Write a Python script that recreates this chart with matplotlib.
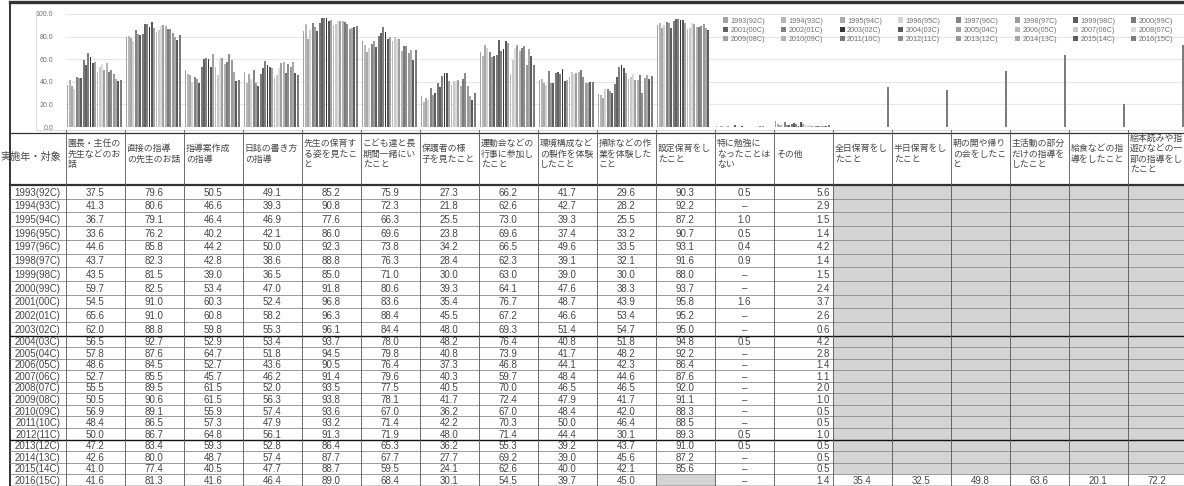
import matplotlib
matplotlib.use("Agg")
import matplotlib.pyplot as plt
import numpy as np
from matplotlib import font_manager
from matplotlib.patches import Rectangle

# ---- data -----------------------------------------------------------------
YEARS = [
    "1993(92C)", "1994(93C)", "1995(94C)", "1996(95C)", "1997(96C)", "1998(97C)",
    "1999(98C)", "2000(99C)", "2001(00C)", "2002(01C)", "2003(02C)", "2004(03C)",
    "2005(04C)", "2006(05C)", "2007(06C)", "2008(07C)", "2009(08C)", "2010(09C)",
    "2011(10C)", "2012(11C)", "2013(12C)", "2014(13C)", "2015(14C)", "2016(15C)",
]

HEADERS = [
    "園長・主任の\n先生などのお\n話",
    "直接の指導\nの先生のお話",
    "指導案作成\nの指導",
    "日誌の書き方\nの指導",
    "先生の保育す\nる姿を見たこ\nと",
    "こども達と長\n期間一緒にい\nたこと",
    "保護者の様\n子を見たこと",
    "運動会などの\n行事に参加し\nたこと",
    "環境構成など\nの製作を体験\nしたこと",
    "掃除などの作\n業を体験した\nこと",
    "設定保育をし\nたこと",
    "特に勉強に\nなったことは\nない",
    "その他",
    "全日保育をし\nたこと",
    "半日保育をし\nたこと",
    "朝の開や帰り\nの会をしたこ\nと",
    "主活動の部分\nだけの指導を\nしたこと",
    "給食などの指\n導をしたこと",
    "絵本読みや指\n遊びなどの一\n部の指導をし\nたこと",
]

NA = np.nan   # grey cell, not asked that year
DASH = None   # shown as "–"

enchou = [37.5, 41.3, 36.7, 33.6, 44.6, 43.7, 43.5, 59.7, 54.5, 65.6, 62.0, 56.5,
          57.8, 48.6, 52.7, 55.5, 50.5, 56.9, 48.4, 50.0, 47.2, 42.6, 41.0, 41.6]
chokusetsu = [79.6, 80.6, 79.1, 76.2, 85.8, 82.3, 81.5, 82.5, 91.0, 91.0, 88.8, 92.7,
              87.6, 84.5, 85.5, 89.5, 90.6, 89.1, 86.5, 86.7, 83.4, 80.0, 77.4, 81.3]
shidouan = [50.5, 46.6, 46.4, 40.2, 44.2, 42.8, 39.0, 53.4, 60.3, 60.8, 59.8, 52.9,
            64.7, 52.7, 45.7, 61.5, 61.5, 55.9, 57.3, 64.8, 59.3, 48.7, 40.5, 41.6]
nisshi = [49.1, 39.3, 46.9, 42.1, 50.0, 38.6, 36.5, 47.0, 52.4, 58.2, 55.3, 53.4,
          51.8, 43.6, 46.2, 52.0, 56.3, 57.4, 47.9, 56.1, 52.8, 57.4, 47.7, 46.4]
sugata = [85.2, 90.8, 77.6, 86.0, 92.3, 88.8, 85.0, 91.8, 96.8, 96.3, 96.1, 93.7,
          94.5, 90.5, 91.4, 93.5, 93.8, 93.6, 93.2, 91.3, 86.4, 87.7, 88.7, 89.0]
kodomo = [75.9, 72.3, 66.3, 69.6, 73.8, 76.3, 71.0, 80.6, 83.6, 88.4, 84.4, 78.0,
          79.8, 76.4, 79.6, 77.5, 78.1, 67.0, 71.4, 71.9, 65.3, 67.7, 59.5, 68.4]
hogosha = [27.3, 21.8, 25.5, 23.8, 34.2, 28.4, 30.0, 39.3, 35.4, 45.5, 48.0, 48.2,
           40.8, 37.3, 40.3, 40.5, 41.7, 36.2, 42.2, 48.0, 36.2, 27.7, 24.1, 30.1]
undoukai = [66.2, 62.6, 73.0, 69.6, 66.5, 62.3, 63.0, 64.1, 76.7, 67.2, 69.3, 76.4,
            73.9, 46.8, 59.7, 70.0, 72.4, 67.0, 70.3, 71.4, 55.3, 69.2, 62.6, 54.5]
kankyou = [41.7, 42.7, 39.3, 37.4, 49.6, 39.1, 39.0, 47.6, 48.7, 46.6, 51.4, 40.8,
           41.7, 44.1, 48.4, 46.5, 47.9, 48.4, 50.0, 44.4, 39.2, 39.0, 40.0, 39.7]
souji = [29.6, 28.2, 25.5, 33.2, 33.5, 32.1, 30.0, 38.3, 43.9, 53.4, 54.7, 51.8,
         48.2, 42.3, 44.6, 46.5, 41.7, 42.0, 46.4, 30.1, 43.7, 45.6, 42.1, 45.0]
settei = [90.3, 92.2, 87.2, 90.7, 93.1, 91.6, 88.0, 93.7, 95.8, 95.2, 95.0, 94.8,
          92.2, 86.4, 87.6, 92.0, 91.1, 88.3, 88.5, 89.3, 91.0, 87.2, 85.6, NA]
tokuni = [0.5, DASH, 1.0, 0.5, 0.4, 0.9, DASH, DASH, 1.6, DASH, DASH, 0.5,
          DASH, DASH, DASH, DASH, DASH, DASH, DASH, 0.5, 0.5, DASH, DASH, DASH]
sonota = [5.6, 2.9, 1.5, 1.4, 4.2, 1.4, 1.5, 2.4, 3.7, 2.6, 0.6, 4.2,
          2.8, 1.4, 1.1, 2.0, 1.0, 0.5, 0.5, 1.0, 0.5, 0.5, 0.5, 1.4]
# items only asked in 2016
new_2016 = [35.4, 32.5, 49.8, 63.6, 20.1, 72.2]

YEAR_COLORS = [
    "#a3a3a3", "#b6b6b6", "#a9a9a9", "#d2d2d2", "#828282", "#9c9c9c", "#5e5e5e", "#7a7a7a",
    "#616161", "#808080", "#353535", "#575757", "#a2a2a2", "#b9b9b9", "#c9c9c9", "#dcdcdc",
    "#a0a0a0", "#b2b2b2", "#7b7b7b", "#8c8c8c", "#9a9a9a", "#a9a9a9", "#5c5c5c", "#7c7c7c",
]

columns = [enchou, chokusetsu, shidouan, nisshi, sugata, kodomo, hogosha, undoukai,
           kankyou, souji, settei, tokuni, sonota]
columns += [[NA] * (len(YEARS) - 1) + [v] for v in new_2016]

# ---- layout (pixels) ------------------------------------------------------
W, H = 1184, 486
COL0_LEFT = 10
COL_LEFT = 65.7
COL_W = 59.0
Y0, Y100 = 127, 14
HEAD_TOP, HEAD_BOT = 133, 185
HEAD_TEXT_Y = 154
ROW_H_A, ROW_H_B, N_A = 13.7, 11.54, 11

names = {f.name for f in font_manager.fontManager.ttflist}
NUM_FONT = "Liberation Sans Narrow" if "Liberation Sans Narrow" in names else "Liberation Sans"
CJK = ["Noto Sans CJK JP", "DejaVu Sans"]
TEXT_C = "#454545"


def fx(px):
    return px / W


def fy(py):
    return 1 - py / H


def num(v):
    return 0.0 if v is None or np.isnan(v) else v


fig = plt.figure(figsize=(W / 100, H / 100), dpi=100)
n_cat = len(columns)

# ---- bar chart ------------------------------------------------------------
ax = fig.add_axes([fx(COL_LEFT), fy(Y0), n_cat * COL_W / W, (Y0 - Y100) / H])
ax.set_xlim(0, n_cat)
ax.set_ylim(0, 100)
step = 0.94 / len(YEARS)
x = np.arange(n_cat)
handles = []
for j, year in enumerate(YEARS):
    heights = [num(col[j]) for col in columns]
    h = ax.bar(x + 0.01 + (j + 0.5) * step, heights, width=step * 0.8,
               color=YEAR_COLORS[j], label=year, linewidth=0)
    handles.append(h)

ax.set_yticks(range(0, 101, 20))
ax.set_yticklabels([f"{t:.1f}" for t in range(0, 101, 20)], fontsize=5,
                   family="Liberation Sans", color="#707070")
ax.tick_params(axis="y", length=0, pad=9)
ax.set_xticks([])
ax.yaxis.grid(True, color="#e6e6e6", lw=0.8)
ax.set_axisbelow(True)
for s in ax.spines.values():
    s.set_visible(False)
ax.patch.set_alpha(0)

# legend: years run across rows, 8 per row
order = [c + 8 * r for c in range(8) for r in range(3)]
leg = ax.legend([handles[i] for i in order], [YEARS[i] for i in order], ncol=8,
                loc="upper left", bbox_to_anchor=(fx(723), fy(17.5)),
                bbox_transform=fig.transFigure, frameon=False,
                prop={"family": "Liberation Sans", "size": 5.2}, labelcolor="#707070",
                handlelength=0.7, handleheight=0.7, handletextpad=0.35,
                columnspacing=2.2, labelspacing=0.3, borderpad=0, borderaxespad=0)

# ---- table ----------------------------------------------------------------
tab = fig.add_axes([0, 0, 1, 1])
tab.set_xlim(0, W)
tab.set_ylim(H, 0)
tab.axis("off")

row_edges = [HEAD_BOT + ROW_H_A * i for i in range(N_A + 1)]
row_edges += [row_edges[-1] + ROW_H_B * i for i in range(1, len(YEARS) - N_A + 1)]
col_edges = [COL_LEFT + COL_W * k for k in range(n_cat + 1)]

for k, col in enumerate(columns):
    for j, v in enumerate(col):
        if v is not None and np.isnan(v):
            tab.add_patch(Rectangle((col_edges[k], row_edges[j]), COL_W,
                                    row_edges[j + 1] - row_edges[j],
                                    facecolor="#d4d4d4", edgecolor="none"))

# frame and plot-area lines
tab.plot([COL0_LEFT, W], [2, 2], color="#333333", lw=2.4)
tab.plot([COL0_LEFT, COL0_LEFT], [2, H], color="#333333", lw=1.4)
tab.plot([36, 36], [10, 130], color="#dddddd", lw=0.8)
tab.plot([36, W], [130, 130], color="#dddddd", lw=0.8)

# grid lines
tab.plot([COL0_LEFT, W], [HEAD_TOP, HEAD_TOP], color="#333333", lw=0.9)
tab.plot([COL0_LEFT, W], [HEAD_BOT, HEAD_BOT], color="#333333", lw=1.6)
for i, yy in enumerate(row_edges[1:], start=1):
    if i in (N_A, 20, len(YEARS)):
        tab.plot([COL0_LEFT, W], [yy, yy], color="#111111", lw=1.0)
    else:
        tab.plot([COL0_LEFT, W], [yy, yy], color="#8a8a8a", lw=0.6)
for xx in col_edges:
    tab.plot([xx, xx], [130, H], color="#555555", lw=0.6)

# header texts
tab.text(0, HEAD_TEXT_Y + 3, "実施年・対象", ha="left", va="center",
         fontsize=7.3, family=CJK, color=TEXT_C)
for k, label in enumerate(HEADERS):
    tab.text(col_edges[k] + 2, HEAD_TEXT_Y, label, ha="left",
             va="center", fontsize=6.4, family=CJK, color=TEXT_C, linespacing=1.2)

# body texts
for j, year in enumerate(YEARS):
    yc = (row_edges[j] + row_edges[j + 1]) / 2 + 0.8
    tab.text((COL0_LEFT + COL_LEFT) / 2, yc, year, ha="center", va="center",
             fontsize=7, family=NUM_FONT, color=TEXT_C)
    for k, col in enumerate(columns):
        v = col[j]
        if v is None:
            txt = "–"
        elif np.isnan(v):
            continue
        else:
            txt = f"{v:.1f}"
        if k == 12:
            tab.text(col_edges[k + 1] - 3, yc, txt, ha="right", va="center",
                     fontsize=7, family=NUM_FONT, color=TEXT_C)
        else:
            tab.text((col_edges[k] + col_edges[k + 1]) / 2, yc, txt, ha="center",
                     va="center", fontsize=7, family=NUM_FONT, color=TEXT_C)

fig.savefig("out.png", dpi=100)
